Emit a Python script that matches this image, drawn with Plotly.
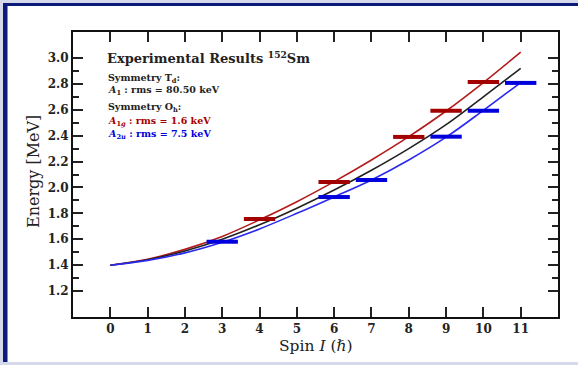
import plotly.graph_objects as go

# ---------------- data ----------------
spin = [0, 1, 2, 3, 4, 5, 6, 7, 8, 9, 10, 11]
curve_A1 = [1.400, 1.442, 1.510, 1.600, 1.712, 1.840, 1.980, 2.133, 2.300, 2.485, 2.700, 2.920]
curve_A1g = [1.400, 1.446, 1.522, 1.622, 1.750, 1.890, 2.045, 2.212, 2.392, 2.590, 2.810, 3.045]
curve_A2u = [1.400, 1.437, 1.495, 1.577, 1.680, 1.800, 1.927, 2.058, 2.212, 2.388, 2.595, 2.810]

exp_red_spin = [4, 6, 8, 9, 10]
exp_red_E = [1.757, 2.042, 2.390, 2.592, 2.815]
exp_blue_spin = [3, 6, 7, 9, 10, 11]
exp_blue_E = [1.581, 1.926, 2.057, 2.392, 2.592, 2.807]

x_ticks = list(range(0, 12))
y_major = [1.2, 1.4, 1.6, 1.8, 2.0, 2.2, 2.4, 2.6, 2.8, 3.0]
y_minor = [1.3, 1.5, 1.7, 1.9, 2.1, 2.3, 2.5, 2.7, 2.9]

# ---------------- styles ----------------
RED_LINE = "#b31b1b"
RED_BAR = "#a30000"
BLUE_LINE = "#2a2aee"
BLUE_BAR = "#0000dd"
BLACK = "#222222"
HALF = 0.42

W, H = 578, 365
L, R, T, B = 73, 20, 32, 48
PW, PH = W - L - R, H - T - B


def px(x):
    return (x - L) / PW


def py(y):
    return 1 - (y - T) / PH


def bars(xs, ys):
    bx, by = [], []
    for c, e in zip(xs, ys):
        bx += [c - HALF, c + HALF, None]
        by += [e, e, None]
    return bx, by


fig = go.Figure()
fig.add_trace(go.Scatter(x=spin, y=curve_A1g, mode="lines", line=dict(color=RED_LINE, width=1.6, shape="spline"), showlegend=False))
fig.add_trace(go.Scatter(x=spin, y=curve_A1, mode="lines", line=dict(color=BLACK, width=1.6, shape="spline"), showlegend=False))
fig.add_trace(go.Scatter(x=spin, y=curve_A2u, mode="lines", line=dict(color=BLUE_LINE, width=1.6, shape="spline"), showlegend=False))
rx, ry = bars(exp_red_spin, exp_red_E)
fig.add_trace(go.Scatter(x=rx, y=ry, mode="lines", line=dict(color=RED_BAR, width=4), showlegend=False))
bx, by = bars(exp_blue_spin, exp_blue_E)
fig.add_trace(go.Scatter(x=bx, y=by, mode="lines", line=dict(color=BLUE_BAR, width=4), showlegend=False))

tickfont = dict(family="DejaVu Serif", size=12, color="#222222", weight="bold")
fig.update_xaxes(range=[-1, 12], tickvals=x_ticks, ticks="inside", ticklen=10, tickwidth=1.5,
                 tickcolor="#222", showline=True, linecolor="#111", linewidth=2, mirror="ticks",
                 showgrid=False, zeroline=False, tickfont=tickfont)
fig.update_yaxes(range=[1.0, 3.2], tickvals=y_major, ticktext=[f"{v:.1f}" for v in y_major],
                 ticks="inside", ticklen=10, tickwidth=1.5, tickcolor="#222",
                 minor=dict(tickvals=y_minor, ticks="inside", ticklen=6, tickwidth=1.5, tickcolor="#222"),
                 showline=True, linecolor="#111", linewidth=2, mirror="ticks",
                 showgrid=False, zeroline=False, tickfont=tickfont)

shapes = [
    dict(type="rect", xref="paper", yref="paper", x0=px(3), x1=px(W), y0=py(362), y1=py(3),
         fillcolor="white", line=dict(width=0), layer="below"),
    dict(type="rect", xref="paper", yref="paper", x0=px(3), x1=px(W), y0=py(6), y1=py(3),
         fillcolor="#0c1a7c", line=dict(width=0), layer="above"),
    dict(type="rect", xref="paper", yref="paper", x0=px(3), x1=px(7.5), y0=py(362), y1=py(3),
         fillcolor="#0c1a7c", line=dict(width=0), layer="above"),
]

ann = []
def add(text, x, y, size, color="#222222", **kw):
    ann.append(dict(text=text, x=px(x), y=py(y), xref="paper", yref="paper", showarrow=False,
                    xanchor=kw.get("xanchor", "left"), yanchor="middle", textangle=kw.get("angle", 0),
                    font=dict(family="DejaVu Serif", size=size, color=color, weight=kw.get("weight", "bold"))))

add("Experimental Results <sup>152</sup>Sm", 105, 57, 13)
add("Symmetry T<sub>d</sub>:", 106, 78, 9.5)
add("<i>A</i><sub>1</sub> : rms = 80.50 keV", 106, 90, 9.5)
add("Symmetry O<sub>h</sub>:", 106, 108, 9.5)
add("<i>A</i><sub>1<i>g</i></sub> : rms = 1.6 keV", 106, 121, 9.5, color=RED_BAR)
add("<i>A</i><sub>2<i>u</i></sub> : rms = 7.5 keV", 106, 134, 9.5, color=BLUE_BAR)
add("Spin <i>I</i> (ℏ)", 315.5, 346, 15.5, xanchor="center", weight="normal")
add("Energy [MeV]", 33, 172, 16, xanchor="center", angle=-90, weight="normal")

fig.update_layout(width=W, height=H, margin=dict(l=L, r=R, t=T, b=B, pad=0),
                  paper_bgcolor="#d6d9ec", plot_bgcolor="white", shapes=shapes, annotations=ann,
                  showlegend=False)

fig.write_html("out.html")
